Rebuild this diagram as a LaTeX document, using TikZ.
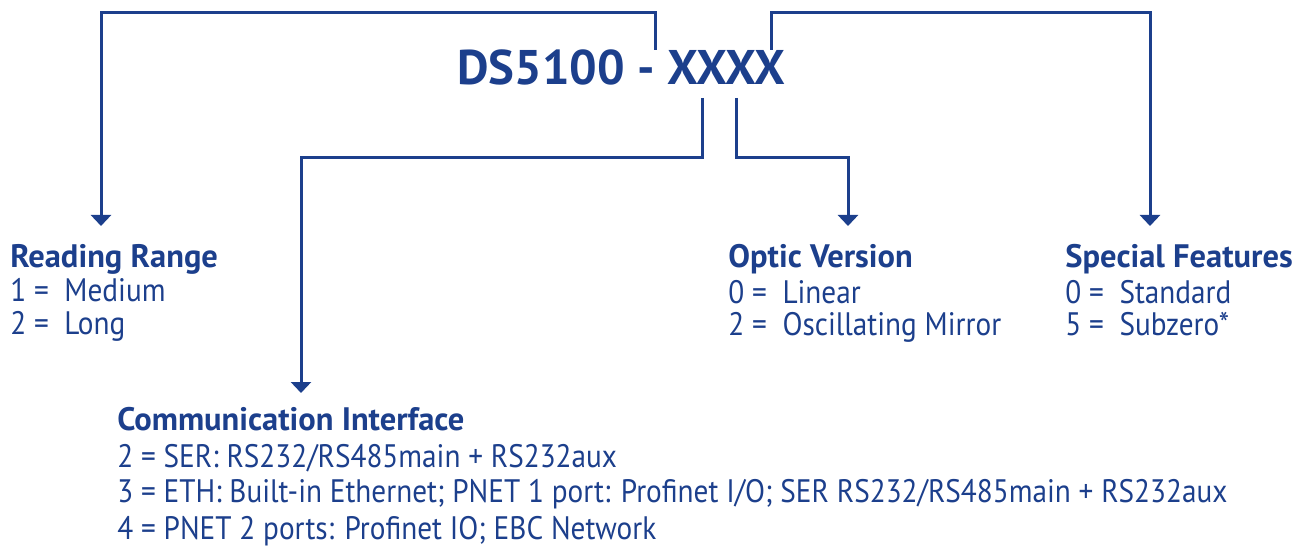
\documentclass[tikz,border=0pt]{standalone}
\usepackage{fontspec}
\setmainfont{PT Sans}
\newfontfamily\itemfont{PT Sans}[FakeStretch=0.9]
\usepackage{xcolor}
\usepackage{tikz}
\usetikzlibrary{arrows.meta}

\definecolor{dsblue}{RGB}{28,63,140}

\begin{document}
\begin{tikzpicture}[
		%Global config
		x=0.02cm, y=-0.02cm,
		color=dsblue,
		%Styles
		Conn/.style={
			draw=dsblue,
			line width=0.06cm,
			-{Triangle[width=0.4cm,length=0.22cm]},
		},
		Title/.style={
			anchor=base west,
			inner sep=0pt,
			font=\fontsize{27.7}{30}\selectfont\bfseries,
		},
		Head/.style={
			anchor=base west,
			inner sep=0pt,
			font=\fontsize{18.5}{20}\selectfont\bfseries,
		},
		Item/.style={
			anchor=base west,
			inner sep=0pt,
			font=\fontsize{18.5}{20}\selectfont\itemfont,
		}
		]
		\useasboundingbox (0,0) rectangle (1316,560);

		% Part number
		\node[Title] (title) at (457,85) {DS5100 - XXXX};

		% Start points of the connectors
		\coordinate (rrStart) at (655,50);
		\coordinate (sfStart) at (771,50);
		\coordinate (ciStart) at (702,98);
		\coordinate (ovStart) at (736,98);

		% Arrow tips
		\coordinate (rrTip) at (101,226);
		\coordinate (sfTip) at (1150,226);
		\coordinate (ciTip) at (301,393);
		\coordinate (ovTip) at (848,226);

		% Reading Range
		\node[Head] (rr) at (10,268) {Reading Range};
		\node[Item] (rr1) at (10,302) {1 =\ \ Medium};
		\node[Item] (rr2) at (10,335) {2 =\ \ Long};

		% Optic Version
		\node[Head] (ov) at (728,268) {Optic Version};
		\node[Item] (ov1) at (728,304) {0 =\ \ Linear};
		\node[Item] (ov2) at (728,336) {2 =\ \ Oscillating Mirror};

		% Special Features
		\node[Head] (sf) at (1065,268) {Special Features};
		\node[Item] (sf1) at (1065,304) {0 =\ \ Standard};
		\node[Item] (sf2) at (1065,336) {5 =\ \ Subzero*};

		% Communication Interface
		\node[Head] (ci) at (117,431) {Communication Interface};
		\node[Item] (ci2) at (117,468) {2 = SER: RS232/RS485main + RS232aux};
		\node[Item] (ci3) at (117,503) {3 = ETH: Built-in Ethernet; PNET 1 port: Profinet I/O; SER RS232/RS485main + RS232aux};
		\node[Item] (ci4) at (117,540) {4 = PNET 2 ports: Profinet IO; EBC Network};

		% Connectors
		\draw[Conn] (rrStart) -- ++(0,-37) -| (rrTip);
		\draw[Conn] (sfStart) -- ++(0,-37) -| (sfTip);
		\draw[Conn] (ciStart) -- ++(0,60) -| (ciTip);
		\draw[Conn] (ovStart) -- ++(0,60) -| (ovTip);
	\end{tikzpicture}
\end{document}
